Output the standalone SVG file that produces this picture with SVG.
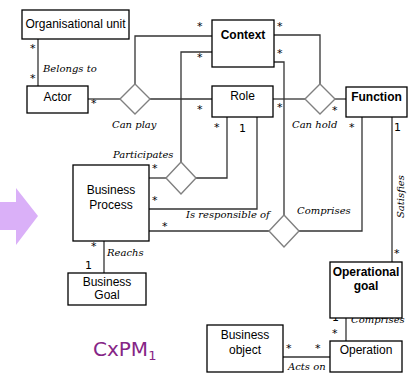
<svg xmlns="http://www.w3.org/2000/svg" width="419" height="374" viewBox="0 0 419 374">
<style>
.box{fill:#fff;stroke:#000;stroke-width:1.3}
.t{font-family:"Liberation Sans",Arial,sans-serif;font-size:12px;fill:#000;text-anchor:middle}
.b{font-weight:bold}
.ln{fill:none;stroke:#333;stroke-width:1.3}
.dia{fill:#fff;stroke:#808080;stroke-width:1.4}
.lbl{font-family:"DejaVu Serif","Liberation Serif",serif;font-style:italic;font-size:10px;fill:#000}
.m{font-family:"DejaVu Sans","Liberation Sans",sans-serif;font-size:11px;fill:#000}
</style>
<rect width="419" height="374" fill="#fff"/>
<polygon points="0,202 16,202 16,188 38,216 16,245 16,230 0,230" fill="#dab0f8"/>
<g id="connectors">
<line class="ln" x1="38" y1="39" x2="38" y2="86"/>
<line class="ln" x1="88" y1="99" x2="120" y2="99"/>
<polyline class="ln" points="135,84 135,36 212,36"/>
<line class="ln" x1="150" y1="99" x2="212" y2="99"/>
<polyline class="ln" points="212,52 181,52 181,162"/>
<line class="ln" x1="149" y1="178" x2="166" y2="178"/>
<polyline class="ln" points="196,178 227,178 227,117"/>
<polyline class="ln" points="257,117 257,209 149,209"/>
<polyline class="ln" points="274,35 320,35 320,84"/>
<line class="ln" x1="273" y1="99" x2="305" y2="99"/>
<line class="ln" x1="335" y1="99" x2="346" y2="99"/>
<polyline class="ln" points="274,62 284,62 284,215"/>
<line class="ln" x1="149" y1="231" x2="269" y2="231"/>
<polyline class="ln" points="299,231 362,231 362,117"/>
<line class="ln" x1="392" y1="117" x2="392" y2="262"/>
<line class="ln" x1="346" y1="318" x2="346" y2="341"/>
<line class="ln" x1="283" y1="357" x2="330" y2="357"/>
<line class="ln" x1="104" y1="241" x2="104" y2="273"/>
<polygon class="dia" points="135,84 150,99 135,114 120,99"/>
<polygon class="dia" points="181,162 196,178 181,194 166,178"/>
<polygon class="dia" points="320,84 335,99 320,114 305,99"/>
<polygon class="dia" points="284,215 299,231 284,247 269,231"/>
<text class="lbl" x="43" y="72">Belongs to</text>
<text class="lbl" x="112" y="128">Can play</text>
<text class="lbl" x="292" y="128">Can hold</text>
<text class="lbl" x="113" y="158">Participates</text>
<text class="lbl" x="186" y="218">Is responsible of</text>
<text class="lbl" x="297" y="214">Comprises</text>
<text class="lbl" transform="translate(404,218) rotate(-90)">Satisfies</text>
<text class="lbl" x="107" y="256">Reachs</text>
<text class="lbl" x="351" y="323">Comprises</text>
<text class="lbl" x="288" y="370">Acts on</text>
<text class="m" x="30" y="52">*</text>
<text class="m" x="30" y="82">*</text>
<text class="m" x="91" y="107">*</text>
<text class="m" x="197" y="30">*</text>
<text class="m" x="197" y="61">*</text>
<text class="m" x="197" y="113">*</text>
<text class="m" x="277" y="30">*</text>
<text class="m" x="277" y="57">*</text>
<text class="m" x="277" y="111">*</text>
<text class="m" x="332" y="114">*</text>
<text class="m" x="349" y="131">*</text>
<text class="m" x="394" y="131">1</text>
<text class="m" x="214" y="131">*</text>
<text class="m" x="239" y="132">1</text>
<text class="m" x="152" y="172">*</text>
<text class="m" x="152" y="204">*</text>
<text class="m" x="162" y="230">*</text>
<text class="m" x="91" y="250">*</text>
<text class="m" x="85" y="269">1</text>
<text class="m" x="394" y="257">*</text>
<text class="m" x="332" y="321">1</text>
<text class="m" x="332" y="337">*</text>
<text class="m" x="286" y="352">*</text>
<text class="m" x="315" y="352">*</text>
</g>
<g id="orgunit"><rect class="box" x="22" y="10" width="107" height="29"/><text class="t" x="75.5" y="28">Organisational unit</text></g>
<g id="actor"><rect class="box" x="27" y="86" width="61" height="27"/><text class="t" x="57.5" y="101">Actor</text></g>
<g id="context"><rect class="box" x="212" y="20" width="62" height="47"/><text class="t b" x="243" y="39">Context</text></g>
<g id="role"><rect class="box" x="212" y="86" width="61" height="31"/><text class="t" x="242.5" y="100">Role</text></g>
<g id="function"><rect class="box" x="346" y="87" width="61" height="30"/><text class="t b" x="376.5" y="101">Function</text></g>
<g id="bprocess"><rect class="box" x="73" y="165" width="76" height="76"/><text class="t" x="111" y="194">Business</text><text class="t" x="111" y="209">Process</text></g>
<g id="bgoal"><rect class="box" x="68" y="273" width="78" height="32"/><text class="t" x="107" y="286">Business</text><text class="t" x="107" y="299">Goal</text></g>
<g id="opgoal"><rect class="box" x="330" y="262" width="72" height="56"/><text class="t b" x="366" y="276">Operational</text><text class="t b" x="366" y="290">goal</text></g>
<g id="bobject"><rect class="box" x="207" y="325" width="76" height="47"/><text class="t" x="245" y="339">Business</text><text class="t" x="245" y="354">object</text></g>
<g id="operation"><rect class="box" x="330" y="341" width="72" height="31"/><text class="t" x="366" y="354">Operation</text></g>
<text x="93" y="356" font-family="'DejaVu Sans',sans-serif" font-size="20" fill="#862586">CxPM<tspan font-size="13" dy="4">1</tspan></text>
</svg>
